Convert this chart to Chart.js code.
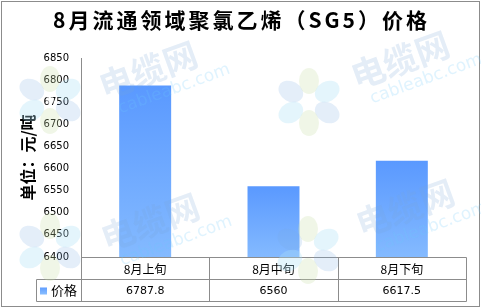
<!DOCTYPE html>
<html>
<head>
<meta charset="utf-8">
<script src="https://cdn.jsdelivr.net/npm/chart.js@4.4.0/dist/chart.umd.min.js"></script>
<style>
  html, body { margin: 0; padding: 0; background: #fff; }
  #wrap { width: 481px; height: 308px; }
</style>
</head>
<body>
<div id="wrap"><canvas id="Chart" width="481" height="308"></canvas></div>
<script>
'use strict';
// ********************* DATA ********************
const chartTitle = '8月流通领域聚氯乙烯（SG5）价格';
const axisTitle = '单位：元/吨';
const seriesName = '价格';
const periods = ['8月上旬', '8月中旬', '8月下旬'];
const prices = [6787.8, 6560, 6617.5];
const priceLabels = ['6787.8', '6560', '6617.5'];
const yMin = 6400;
const yMax = 6850;
const yStep = 50;

// ********************* CANVAS ELEM ********************
let canvasElem = document.getElementById('Chart');
const lineGray = '#8c8c8c';
const cjk = '"Noto Sans CJK SC", "Noto Sans", sans-serif';

// ********************* HELPERS ********************
function barGradient(context) {
  let chart = context.chart;
  let area = chart.chartArea;
  if (!area) return '#66a3ff';
  let yScale = chart.scales.y;
  let top = yScale.getPixelForValue(prices[context.dataIndex]);
  let g = chart.ctx.createLinearGradient(0, top, 0, area.bottom);
  g.addColorStop(0, '#5a99ff');
  g.addColorStop(1, '#84baff');
  return g;
}

function drawFlower(ctx, cx, cy) {
  const petals = [
    [90, 'rgba(200,222,170,0.28)'],
    [30, 'rgba(170,225,245,0.32)'],
    [-30, 'rgba(120,170,225,0.2)'],
    [-90, 'rgba(200,222,170,0.28)'],
    [-150, 'rgba(170,225,245,0.32)'],
    [150, 'rgba(120,170,225,0.2)']
  ];
  petals.forEach(p => {
    let a = p[0] * Math.PI / 180;
    ctx.save();
    ctx.translate(cx + Math.cos(a) * 21, cy - Math.sin(a) * 21);
    ctx.rotate(-a);
    ctx.beginPath();
    ctx.ellipse(0, 0, 13, 10, 0, 0, Math.PI * 2);
    ctx.fillStyle = p[1];
    ctx.fill();
    ctx.restore();
  });
  ctx.beginPath();
  ctx.arc(cx, cy, 4, 0, Math.PI * 2);
  ctx.fillStyle = 'rgba(255,255,255,0.6)';
  ctx.fill();
}

function drawMark(ctx, x, y) {
  ctx.save();
  ctx.translate(x, y);
  ctx.rotate(-20 * Math.PI / 180);
  ctx.textAlign = 'center';
  ctx.textBaseline = 'middle';
  ctx.font = 'bold 34px ' + cjk;
  ctx.fillStyle = 'rgba(120,165,215,0.2)';
  ctx.fillText('电缆网', 0, 0);
  ctx.font = '17px "DejaVu Sans", sans-serif';
  ctx.fillStyle = 'rgba(110,200,250,0.22)';
  ctx.fillText('cableabc.com', 18, 27);
  ctx.restore();
}

// ********************* PLUGINS ********************
const frameAndTable = {
  id: 'frameAndTable',
  beforeDraw(chart) {
    let ctx = chart.ctx;
    ctx.save();
    ctx.fillStyle = '#fff';
    ctx.fillRect(0, 0, chart.width, chart.height);
    ctx.strokeStyle = lineGray;
    ctx.lineWidth = 1;
    ctx.strokeRect(1.5, 1.5, chart.width - 3, chart.height - 3);
    ctx.fillStyle = '#000';
    ctx.font = 'bold 21px ' + cjk;
    ctx.letterSpacing = '3px';
    ctx.textAlign = 'center';
    ctx.textBaseline = 'middle';
    ctx.fillText(chartTitle, chart.width / 2 + 1, 20);
    ctx.letterSpacing = '0px';
    ctx.restore();
  },
  afterDraw(chart) {
    let ctx = chart.ctx;
    let area = chart.chartArea;
    let xScale = chart.scales.x;
    let half = (area.right - area.left) / periods.length / 2;
    let top = Math.round(area.bottom) + 0.5;
    let mid = top + 22;
    let bot = mid + 22;
    let left = Math.round(area.left) + 0.5;
    let right = Math.round(area.right) + 0.5;
    let legendLeft = 36.5;

    ctx.save();
    ctx.strokeStyle = lineGray;
    ctx.lineWidth = 1;
    ctx.beginPath();
    ctx.moveTo(left, top); ctx.lineTo(right, top);
    ctx.moveTo(legendLeft, mid); ctx.lineTo(right, mid);
    ctx.moveTo(legendLeft, bot); ctx.lineTo(right, bot);
    ctx.moveTo(legendLeft, mid); ctx.lineTo(legendLeft, bot);
    ctx.moveTo(left, top); ctx.lineTo(left, bot);
    periods.forEach((p, i) => {
      let edge = Math.round(xScale.getPixelForValue(i) + half) + 0.5;
      ctx.moveTo(edge, top); ctx.lineTo(edge, bot);
    });
    ctx.stroke();

    ctx.fillStyle = '#000';
    ctx.textAlign = 'center';
    ctx.textBaseline = 'middle';
    periods.forEach((p, i) => {
      let cx = xScale.getPixelForValue(i);
      ctx.font = '12px ' + cjk;
      ctx.fillText(p, cx, (top + mid) / 2 + 1);
      ctx.font = '11px "DejaVu Sans", sans-serif';
      ctx.fillText(priceLabels[i], cx, (mid + bot) / 2 + 1);
    });

    // legend key
    let g = ctx.createLinearGradient(0, mid + 7, 0, mid + 14);
    g.addColorStop(0, '#5a99ff');
    g.addColorStop(1, '#84baff');
    ctx.fillStyle = g;
    ctx.fillRect(40, mid + 8, 7, 7);
    ctx.fillStyle = '#000';
    ctx.textAlign = 'left';
    ctx.font = '13px ' + cjk;
    ctx.fillText(seriesName, 51, (mid + bot) / 2);

    // watermarks
    drawFlower(ctx, 50, 100);
    drawFlower(ctx, 309, 102);
    drawFlower(ctx, 50, 247);
    drawFlower(ctx, 308, 250);
    drawMark(ctx, 148, 70);
    drawMark(ctx, 400, 60);
    drawMark(ctx, 150, 222);
    drawMark(ctx, 405, 208);
    ctx.restore();
  }
};

// ********************* THE CHART ********************
function renderChart() {
  let chartObj = {
    type: 'bar',
    data: {
      labels: periods,
      datasets: [{
        label: seriesName,
        data: prices,
        backgroundColor: barGradient,
        borderWidth: 0,
        barPercentage: 0.405,
        categoryPercentage: 1
      }]
    },
    plugins: [frameAndTable],
    options: {
      responsive: false,
      animation: false,
      devicePixelRatio: 1,
      layout: { padding: { left: 0, top: 58, right: 15, bottom: 51 } },
      plugins: {
        legend: { display: false },
        title: { display: false },
        tooltip: { enabled: false }
      },
      scales: {
        x: {
          grid: { display: false, drawTicks: false },
          border: { display: false },
          ticks: { display: false },
          afterFit(scale) { scale.height = 0; }
        },
        y: {
          min: yMin,
          max: yMax,
          grid: { display: false, drawTicks: false },
          border: { display: true, color: lineGray, width: 1 },
          ticks: {
            stepSize: yStep,
            padding: 12,
            color: '#000',
            font: { family: '"DejaVu Sans", sans-serif', size: 10 },
            callback: value => String(value)
          },
          title: {
            display: true,
            text: axisTitle,
            color: '#000',
            font: { family: cjk, size: 16, weight: 'bold' },
            padding: { top: 18, bottom: 0 }
          },
          afterFit(scale) { scale.width = 81; }
        }
      }
    }
  };
  new Chart(canvasElem, chartObj);
}

// ********************* EXECUTABLE CODE ********************
renderChart();
</script>
</body>
</html>
